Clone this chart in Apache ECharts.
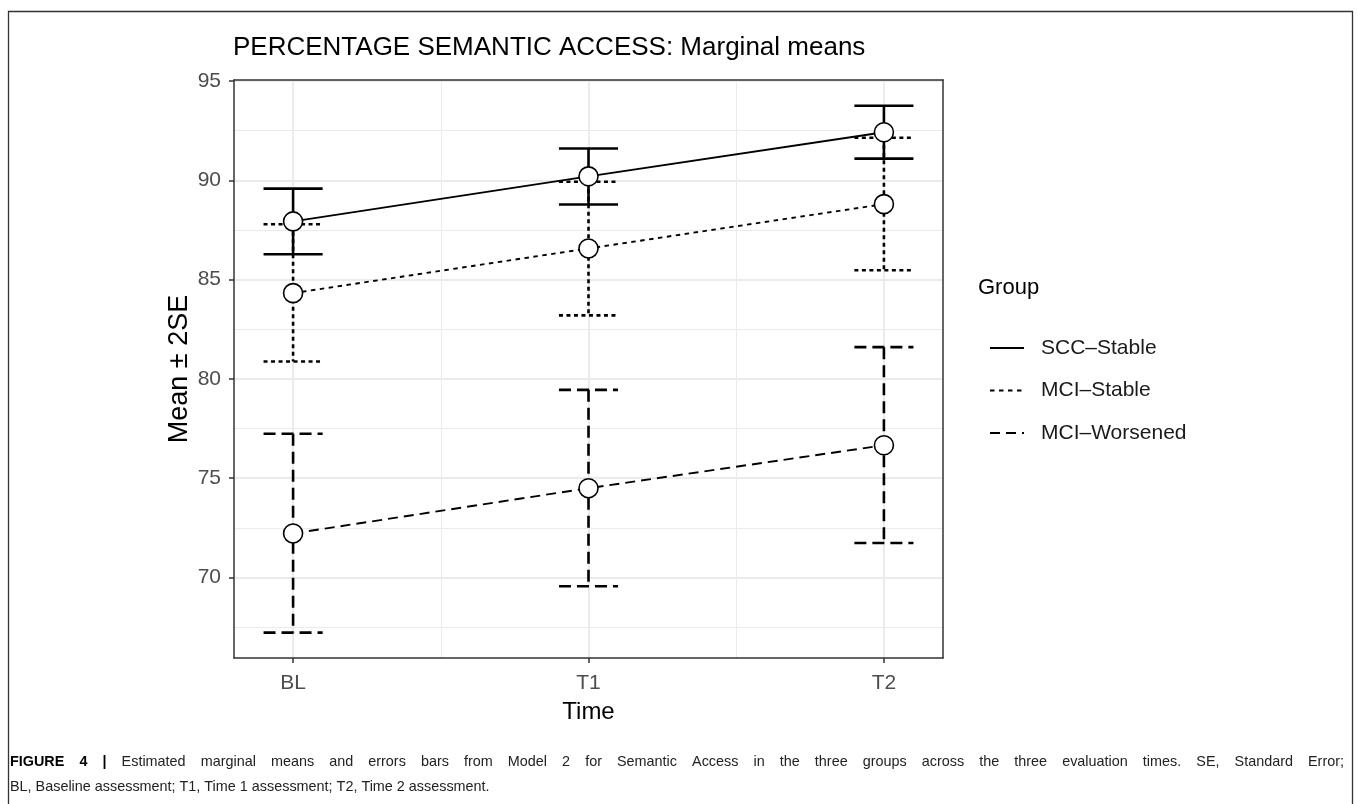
<!DOCTYPE html>
<html>
<head>
<meta charset="utf-8">
<script src="https://cdn.jsdelivr.net/npm/echarts@6/dist/echarts.min.js"></script>
<style>
html,body{margin:0;padding:0;background:#fff;}
#chart{width:1358px;height:804px;}
</style>
</head>
<body>
<div id="chart"></div>
<script>
// ---- data ----
const categories = ['BL', 'T1', 'T2'];
const groups = ['SCC\u2013Stable', 'MCI\u2013Stable', 'MCI\u2013Worsened'];
const sccMean  = [87.93, 90.20, 92.42];
const sccLower = [86.28, 88.78, 91.09];
const sccUpper = [89.58, 91.60, 93.75];
const mciSMean  = [84.32, 86.57, 88.80];
const mciSLower = [80.88, 83.20, 85.47];
const mciSUpper = [87.79, 89.93, 92.14];
const mciWMean  = [72.22, 74.50, 76.66];
const mciWLower = [67.23, 69.56, 71.74];
const mciWUpper = [77.24, 79.45, 81.60];
const yTicks = [70, 75, 80, 85, 90, 95];
const yMinorTicks = [67.5, 72.5, 77.5, 82.5, 87.5, 92.5];
const xTicks = [0, 1, 2];
const xMinorTicks = [0.5, 1.5];
const captionLine1 = 'Estimated marginal means and errors bars from Model 2 for Semantic Access in the three groups across the three evaluation times. SE, Standard Error;';
const captionLine2 = 'BL, Baseline assessment; T1, Time 1 assessment; T2, Time 2 assessment.';
const captionLabel = 'FIGURE 4 |';

const FONT = '"Liberation Sans", Arial, sans-serif';
const CAP_FONT = '"Liberation Sans", Arial, sans-serif';
const chart = echarts.init(document.getElementById('chart'));

const groupData = [
  {name: groups[0], mean: sccMean, lo: sccLower, hi: sccUpper, barDash: null, lineDash: 'solid'},
  {name: groups[1], mean: mciSMean, lo: mciSLower, hi: mciSUpper, barDash: [4, 3.5], lineDash: [4.5, 4.5]},
  {name: groups[2], mean: mciWMean, lo: mciWLower, hi: mciWUpper, barDash: [12, 6], lineDash: [10, 6]}
];

const CAP = 0.1;
const series = [];
groupData.forEach(g => {
  series.push({
    name: g.name, type: 'line', xAxisIndex: 0, yAxisIndex: 0, z: 2,
    symbol: 'none', showSymbol: false,
    data: g.mean.map((v, i) => [i, v]),
    lineStyle: {color: '#000', width: 1.9, type: g.lineDash},
    itemStyle: {color: '#000'},
    silent: true, animation: false
  });
});
groupData.forEach(g => {
  series.push({
    name: g.name + '-err', type: 'custom', xAxisIndex: 0, yAxisIndex: 0, z: 3,
    data: g.mean.map((v, i) => [i, g.lo[i], g.hi[i]]),
    renderItem: function (params, api) {
      const x = api.value(0), lo = api.value(1), hi = api.value(2);
      const top = api.coord([x, hi]), bot = api.coord([x, lo]);
      const tl = api.coord([x - CAP, hi]), tr = api.coord([x + CAP, hi]);
      const bl = api.coord([x - CAP, lo]), br = api.coord([x + CAP, lo]);
      const st = {stroke: '#000', lineWidth: 2.6, lineDash: g.barDash, fill: null};
      return {type: 'group', children: [
        {type: 'line', shape: {x1: top[0], y1: top[1], x2: bot[0], y2: bot[1]}, style: st},
        {type: 'line', shape: {x1: tl[0], y1: tl[1], x2: tr[0], y2: tr[1]}, style: st},
        {type: 'line', shape: {x1: bl[0], y1: bl[1], x2: br[0], y2: br[1]}, style: st}
      ]};
    },
    silent: true, animation: false
  });
});
groupData.forEach(g => {
  series.push({
    name: g.name + '-pts', type: 'scatter', xAxisIndex: 0, yAxisIndex: 0, z: 4,
    symbol: 'circle', symbolSize: 19,
    data: g.mean.map((v, i) => [i, v]),
    itemStyle: {color: '#fff', borderColor: '#000', borderWidth: 1.6, opacity: 1},
    silent: true, animation: false
  });
});

// justified caption first line (measured with canvas)
const mctx = document.createElement('canvas').getContext('2d');
const CAP_SIZE = 14.4;
function tw(t, bold) { mctx.font = (bold ? 'bold ' : '') + CAP_SIZE + 'px ' + CAP_FONT; return mctx.measureText(t).width; }
const tokens = captionLabel.split(' ').map(t => ({t, b: true})).concat(captionLine1.split(' ').map(t => ({t, b: false})));
const X0 = 10, X1 = 1344;
const sumW = tokens.reduce((s, k) => s + tw(k.t, k.b), 0);
const gap = (X1 - X0 - sumW) / (tokens.length - 1);
const captionGraphics = [];
let cx = X0;
tokens.forEach(k => {
  captionGraphics.push({type: 'text', x: cx, y: 762, z: 10, silent: true,
    style: {text: k.t, fontFamily: CAP_FONT, fontSize: CAP_SIZE, fontWeight: k.b ? 'bold' : 'normal',
            fill: k.b ? '#000' : '#222', verticalAlign: 'middle'}});
  cx += tw(k.t, k.b) + gap;
});
captionGraphics.push({type: 'text', x: X0, y: 787, z: 10, silent: true,
  style: {text: captionLine2, fontFamily: CAP_FONT, fontSize: CAP_SIZE, fill: '#222', verticalAlign: 'middle'}});

const gridCol = '#ebebeb';
const axisCol = '#333333';
const XMIN = -0.2, XMAX = 2.2, YMIN = 65.95, YMAX = 95.05;

const option = {
  backgroundColor: '#fff',
  animation: false,
  textStyle: {fontFamily: FONT},
  title: [
    {text: 'PERCENTAGE SEMANTIC ACCESS: Marginal means', left: 228, top: 30,
     textStyle: {fontFamily: FONT, fontSize: 26, fontWeight: 'normal', color: '#000'}},
    {text: 'Group', left: 978, top: 277, padding: 0,
     textStyle: {fontFamily: FONT, fontSize: 22, fontWeight: 'normal', color: '#000'}}
  ],
  legend: {
    data: groups, orient: 'vertical', left: 989, top: 337, padding: 0,
    itemWidth: 34, itemHeight: 22, itemGap: 20.5,
    itemStyle: {opacity: 0, borderWidth: 0},
    textStyle: {fontFamily: FONT, fontSize: 21, color: '#1a1a1a', padding: [0, 0, 0, 12], lineHeight: 22},
    selectedMode: false
  },
  grid: {left: 234, top: 80, right: 415, bottom: 146, containLabel: false},
  xAxis: [
    {type: 'value', min: XMIN, max: XMAX, position: 'bottom',
     axisLine: {show: true, onZero: false, lineStyle: {color: axisCol, width: 1.5}},
     axisTick: {show: true, length: 5, customValues: xTicks, lineStyle: {color: axisCol, width: 1.5}},
     axisLabel: {show: true, customValues: xTicks, margin: 15, fontSize: 21, color: '#4d4d4d', fontFamily: FONT,
                 formatter: v => categories[Math.round(v)]},
     splitLine: {show: true, lineStyle: {color: gridCol, width: 2}},
     name: 'Time', nameLocation: 'middle', nameGap: 42,
     nameTextStyle: {fontSize: 24, color: '#000', fontFamily: FONT}},
    {type: 'value', min: XMIN, max: XMAX, position: 'top', z: 5,
     axisLine: {show: true, onZero: false, lineStyle: {color: axisCol, width: 1.5}},
     axisTick: {show: false}, axisLabel: {show: false}, splitLine: {show: false}},
    {type: 'value', min: XMIN, max: XMAX, position: 'bottom',
     axisLine: {show: false}, axisTick: {show: false, customValues: xMinorTicks},
     axisLabel: {show: false, customValues: xMinorTicks},
     splitLine: {show: true, lineStyle: {color: gridCol, width: 1}}}
  ],
  yAxis: [
    {type: 'value', min: YMIN, max: YMAX, position: 'left',
     axisLine: {show: true, onZero: false, lineStyle: {color: axisCol, width: 1.5}},
     axisTick: {show: true, length: 5, customValues: yTicks, lineStyle: {color: axisCol, width: 1.5}},
     axisLabel: {show: true, customValues: yTicks, margin: 13, fontSize: 21, color: '#4d4d4d', fontFamily: FONT},
     splitLine: {show: true, lineStyle: {color: gridCol, width: 2}},
     name: 'Mean \u00b1 2SE', nameLocation: 'middle', nameGap: 41, nameRotate: 90, nameMoveOverlap: false,
     nameTextStyle: {fontSize: 27, color: '#000', fontFamily: FONT}},
    {type: 'value', min: YMIN, max: YMAX, position: 'right', z: 5,
     axisLine: {show: true, onZero: false, lineStyle: {color: axisCol, width: 1.5}},
     axisTick: {show: false}, axisLabel: {show: false}, splitLine: {show: false}},
    {type: 'value', min: YMIN, max: YMAX, position: 'left',
     axisLine: {show: false}, axisTick: {show: false, customValues: yMinorTicks},
     axisLabel: {show: false, customValues: yMinorTicks},
     splitLine: {show: true, lineStyle: {color: gridCol, width: 1}}}
  ],
  graphic: [
    {type: 'rect', z: 10, silent: true,
     shape: {x: 8.5, y: 11.5, width: 1344, height: 820},
     style: {fill: null, stroke: '#333', lineWidth: 1.3}}
  ].concat(captionGraphics),
  series: series
};
chart.setOption(option);
</script>
</body>
</html>
